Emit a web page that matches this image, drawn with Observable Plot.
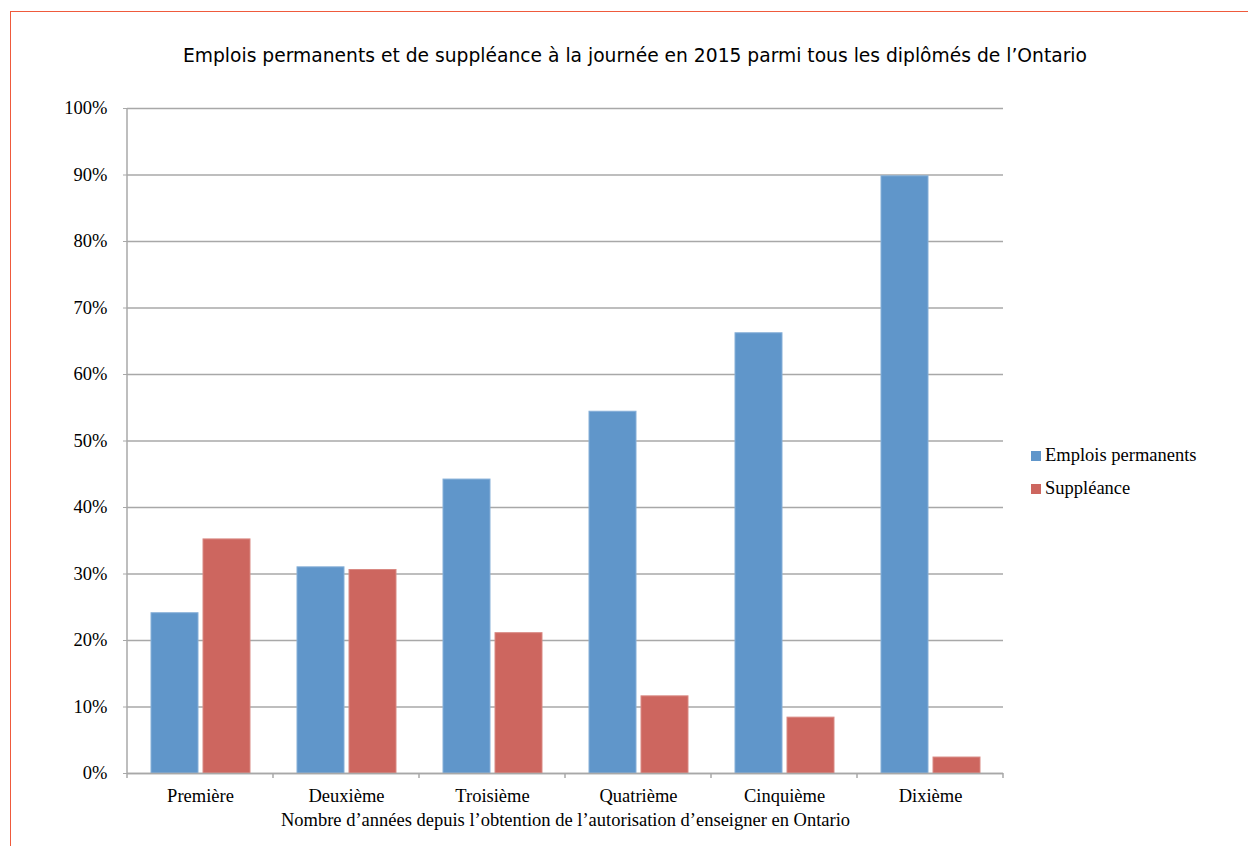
<!DOCTYPE html>
<html><head><meta charset="utf-8">
<script src="https://cdn.jsdelivr.net/npm/d3@7"></script>
<script src="https://cdn.jsdelivr.net/npm/@observablehq/plot@0.6"></script>
<style>
body{margin:0;background:#fff;}
#wrap{position:relative;width:1248px;height:846px;overflow:hidden;}
#border{position:absolute;left:10px;top:11px;width:1300px;height:900px;border:1.5px solid #ef5a3c;box-sizing:border-box;}
#title{position:absolute;left:0;top:45px;width:1270px;text-align:center;font-family:"DejaVu Sans";font-size:18.7px;color:#000;}
#chart{position:absolute;left:0;top:80px;}
#legend{position:absolute;left:1031px;top:439px;font-family:"Liberation Serif";font-size:18.5px;color:#000;}
#legend .item{display:flex;align-items:center;height:33px;}
#legend .sw{width:10px;height:10px;margin-right:4px;}
</style></head>
<body>
<div id="wrap">
<div id="border"></div>
<div id="title"></div>
<div id="chart"></div>
<div id="legend"></div>
</div>
<script>
const title = "Emplois permanents et de suppléance à la journée en 2015 parmi tous les diplômés de l’Ontario";
const xLabel = "Nombre d’années depuis l’obtention de l’autorisation d’enseigner en Ontario";
const categories = ["Première", "Deuxième", "Troisième", "Quatrième", "Cinquième", "Dixième"];
const series = ["Emplois permanents", "Suppléance"];
const permanents = [24.1, 31.0, 44.2, 54.4, 66.2, 89.8];
const suppleance = [35.2, 30.6, 21.1, 11.6, 8.4, 2.4];
const yTicks = [0, 10, 20, 30, 40, 50, 60, 70, 80, 90, 100];
const colors = ["#6096ca", "#cd665f"];
const strokes = ["#86afd8", "#d98983"];

document.getElementById("title").textContent = title;

const data = categories.flatMap((c, i) => [
  {cat: c, serie: series[0], v: permanents[i]},
  {cat: c, serie: series[1], v: suppleance[i]}
]);

const gray = "#a8a8a8";
const plot = Plot.plot({
  width: 1248, height: 766,
  marginLeft: 126, marginRight: 245, marginTop: 28, marginBottom: 73,
  fx: {domain: categories, padding: 0, label: null, axis: null},
  x: {domain: series, paddingInner: 0.1, paddingOuter: 0.45, axis: null},
  y: {domain: [0, 100]},
  color: {domain: series, range: colors},
  style: {fontFamily: "Liberation Serif", fontSize: "18.5px", color: "#000", background: "transparent"},
  marks: [
    Plot.gridY(yTicks, {stroke: gray, strokeOpacity: 1, strokeWidth: 1.3}),
    Plot.axisY(yTicks, {tickSize: 4, tickPadding: 16, tickFormat: d => d + "%", stroke: gray, label: null, fontSize: 18.5}),
    Plot.axisFx({anchor: "bottom", tickSize: 0, tickPadding: 15, label: xLabel, labelAnchor: "center", labelOffset: 52, labelArrow: "none", fontSize: 18.5}),
    Plot.barY(data, {fx: "cat", x: "serie", y: "v", fill: "serie", stroke: d => strokes[series.indexOf(d.serie)], strokeWidth: 1}),
    Plot.ruleY([0], {stroke: gray, strokeWidth: 1.5})
  ]
});
document.getElementById("chart").appendChild(plot);

// axis lines and boundary ticks using Plot's scales
const fx = plot.scale("fx"), y = plot.scale("y");
const svg = d3.select(plot);
const y0 = y.apply(0), y1 = y.apply(100);
const bounds = categories.map(c => fx.apply(c));
bounds.push(fx.apply(categories[categories.length - 1]) + fx.bandwidth);
svg.append("line").attr("x1", bounds[0]).attr("x2", bounds[0]).attr("y1", y1).attr("y2", y0 + 5)
  .attr("stroke", gray).attr("stroke-width", 1.5);
bounds.slice(1).forEach(b => {
  svg.append("line").attr("x1", b).attr("x2", b).attr("y1", y0).attr("y2", y0 + 5)
    .attr("stroke", gray).attr("stroke-width", 1.5);
});

const leg = document.getElementById("legend");
series.forEach((s, i) => {
  const it = document.createElement("div"); it.className = "item";
  const sw = document.createElement("div"); sw.className = "sw"; sw.style.background = colors[i];
  const t = document.createElement("span"); t.textContent = s;
  it.appendChild(sw); it.appendChild(t); leg.appendChild(it);
});
</script>
</body></html>
